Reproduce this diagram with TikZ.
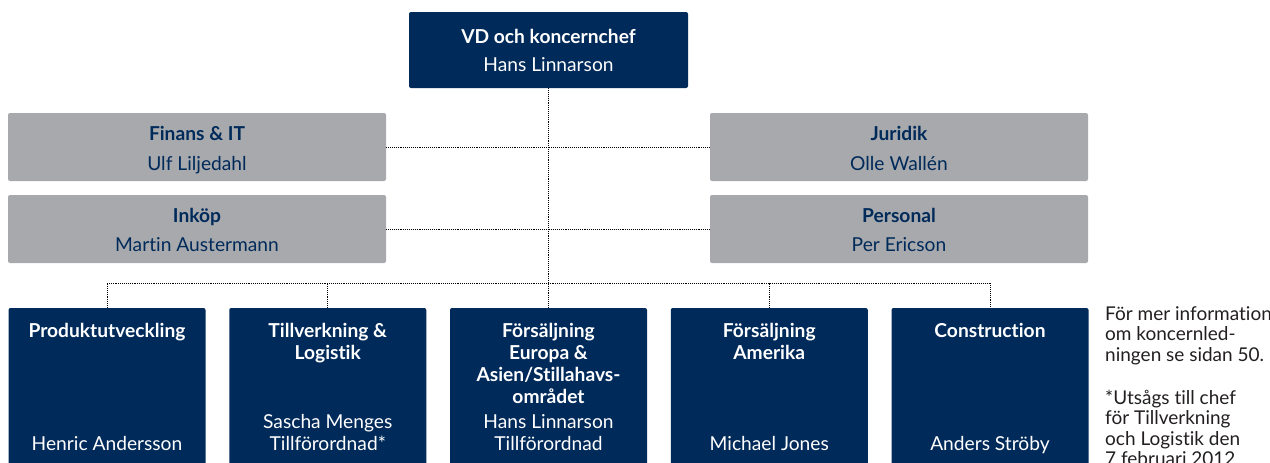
\documentclass[tikz,border=0pt]{standalone}
\usepackage{fontspec}
\setmainfont{Lato}[Ligatures={NoCommon}]
\definecolor{navy}{RGB}{0,42,90}
\definecolor{boxgray}{RGB}{167,169,172}
\definecolor{notetext}{RGB}{35,31,32}
\begin{document}
\begin{tikzpicture}[x=1pt,y=-1pt,
  navybox/.style={fill=navy, rounded corners=2pt, inner sep=0pt},
  graybox/.style={fill=boxgray, rounded corners=2pt, inner sep=0pt, minimum width=378pt, minimum height=68pt},
  unitbox/.style={navybox, minimum width=197pt, minimum height=167pt},
  conn/.style={densely dotted, line width=0.9pt, black},
  ttl/.style={font=\fontsize{19.2}{22}\selectfont\bfseries, text=white, align=center, inner sep=0pt, anchor=north},
  nm/.style={font=\fontsize{19.2}{22}\selectfont, text=white, align=center, inner sep=0pt, anchor=south},
  gttl/.style={font=\fontsize{19.2}{22}\selectfont\bfseries, text=navy, anchor=base, inner sep=0pt},
  gnm/.style={font=\fontsize{19.2}{22}\selectfont, text=navy, anchor=base, inner sep=0pt},
  note/.style={font=\fontsize{19}{20.5}\selectfont, text=notetext, align=left, anchor=north west, inner sep=0pt}
]
\useasboundingbox (0,0) rectangle (1270,463);
\clip (0,0) rectangle (1270,463);

% top box
\node[navybox, minimum width=279pt, minimum height=76pt] (vd) at (548.5,50) {};
\node[gttl, text=white] (vdt) at (548.5,43) {VD och koncernchef};
\node[gnm, text=white] (vdn) at (548.5,71) {Hans Linnarson};

% staff boxes
\node[graybox] (fin) at (197,147) {};
\node[gttl] (fint) at (197,140) {Finans \& IT};
\node[gnm] (finn) at (197,170) {Ulf Liljedahl};

\node[graybox] (ink) at (197,229) {};
\node[gttl] (inkt) at (197,222) {Inköp};
\node[gnm] (inkn) at (197,251) {Martin Austermann};

\node[graybox] (jur) at (899,147) {};
\node[gttl] (jurt) at (899,140) {Juridik};
\node[gnm] (jurn) at (899,170) {Olle Wallén};

\node[graybox] (per) at (899,229) {};
\node[gttl] (pert) at (899,222) {Personal};
\node[gnm] (pern) at (899,251) {Per Ericson};

% business units
\node[unitbox] (p1) at (107,391.5) {};
\node[unitbox] (p2) at (327.75,391.5) {};
\node[unitbox] (p3) at (548.5,391.5) {};
\node[unitbox] (p4) at (769.25,391.5) {};
\node[unitbox] (p5) at (990,391.5) {};

\node[ttl] (t1) at (107,321.6) {\strut Produktutveckling};
\node[ttl] (t2) at (327.75,321.6) {\strut Tillverkning \&\\Logistik};
\node[ttl] (t3) at (548.5,321.6) {\strut Försäljning\\Europa \&\\Asien/Stillahavs-\\området};
\node[ttl] (t4) at (769.25,321.6) {\strut Försäljning\\Amerika};
\node[ttl] (t5) at (990,321.6) {\strut Construction};

\node[nm] (n1) at (107,457.6) {Henric Andersson\strut};
\node[nm] (n2) at (327.75,457.6) {Sascha Menges\\Tillförordnad*\strut};
\node[nm] (n3) at (548.5,457.6) {Hans Linnarson\\Tillförordnad\strut};
\node[nm] (n4) at (769.25,457.6) {Michael Jones\strut};
\node[nm] (n5) at (990,457.6) {Anders Ströby\strut};

% note
\node[note] (nt) at (1105,305.6) {\strut För mer information\\om koncernled-\\ningen se sidan 50.\\[22.5pt]*Utsågs till chef\\för Tillverkning\\och Logistik den\\7 februari 2012};

% connectors
\coordinate (bus) at (548.5,283);
\draw[conn] (vd.south) -- (p3.north);
\draw[conn] (fin.east) -- (fin.east -| vd.south);
\draw[conn] (ink.east) -- (ink.east -| vd.south);
\draw[conn] (jur.west) -- (jur.west -| vd.south);
\draw[conn] (per.west) -- (per.west -| vd.south);
\draw[conn] (p1.north) -- (p1.north |- bus) -- (p5.north |- bus) -- (p5.north);
\draw[conn] (p2.north) -- (p2.north |- bus);
\draw[conn] (p4.north) -- (p4.north |- bus);
\end{tikzpicture}
\end{document}
